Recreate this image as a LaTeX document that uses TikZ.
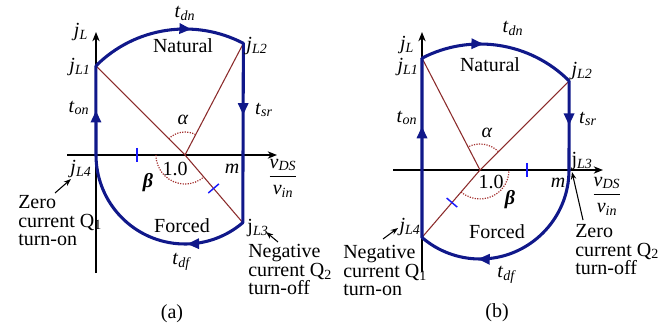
\documentclass[tikz,border=0pt]{standalone}
\usepackage{fontspec}
\setmainfont{Liberation Serif}
\usepackage{tikz}
\usetikzlibrary{arrows.meta,decorations.markings,calc}
\definecolor{pathblue}{HTML}{10188A}
\definecolor{radial}{HTML}{8B2B2B}
\definecolor{anglered}{HTML}{A3302E}
\definecolor{tickblue}{HTML}{1A1AFF}
\newcommand{\sym}[2]{\textit{#1}\textsubscript{\textit{#2}}}
\newcommand{\vratio}{$\displaystyle\frac{\mbox{\sym{v}{DS}}}{\mbox{\sym{v}{in}}}$}

\begin{document}
\begin{tikzpicture}[
x=0.75pt, y=0.75pt,
font=\fontsize{15}{14}\selectfont,
axisline/.style={draw=black, line width=0.9pt, -{Stealth[length=7pt,width=5.5pt]}},
traj/.style={draw=pathblue, line width=2.3pt, line cap=round},
flow/.style={postaction={decorate, decoration={markings, mark=at position #1 with {\arrow[pathblue]{Triangle[length=9pt,width=7.5pt]}}}}},
ray/.style={draw=radial, line width=0.8pt},
anglearc/.style={draw=anglered, line width=0.9pt, densely dotted},
bluetick/.style={draw=tickblue, line width=1.1pt},
note/.style={align=left, anchor=north west, inner sep=0pt},
pointer/.style={-{Stealth[length=5.5pt,width=4pt]}, line width=0.8pt}
]
\useasboundingbox (0,0) rectangle (663,-331);

\coordinate (Oa) at (185,-155);
\coordinate (a1) at ($(Oa)+(135:126)$);
\coordinate (a2) at ($(Oa)+(62.4:126)$);
\coordinate (a3) at ($(Oa)+(-49.5:89)$);
\coordinate (a4) at ($(Oa)+(180:89)$);
\coordinate (aXs) at (67,-155);
\coordinate (aXe) at (277,-155);
\coordinate (aYs) at (96,-273);
\coordinate (aYe) at (96,-32);
\draw[axisline] (aXs) -- (aXe);
\draw[axisline] (aYs) -- (aYe);
\draw[ray] (a1) -- (Oa) -- (a3);
\draw[ray] (Oa) -- (a2);
\draw[anglearc] ($(Oa)+(135:23)$) arc[start angle=135, end angle=62.4, radius=23];
\draw[anglearc] ($(Oa)+(180:29)$) arc[start angle=180, end angle=310.5, radius=29];
\draw[bluetick] ($(Oa)+(180:48)+(0,7)$) -- ++(0,-14);
\draw[bluetick] ($(Oa)+(-49.5:44)+(40.5:7)$) -- ++(220.5:14);
\draw[traj, flow=0.5] (a4) -- (a1);
\draw[traj, flow=0.66] (a1) arc[start angle=135, end angle=62.4, radius=126];
\draw[traj, flow=0.4] (a2) -- (a3);
\draw[traj, flow=0.3] (a3) arc[start angle=-49.5, end angle=-180, radius=89];
\node (aJL) at (81,-32) {\sym{j}{L}};
\node (aTdn) at (185,-13) {\sym{t}{dn}};
\node (aNat) at (183,-46) {Natural};
\node (aJ2) at (257,-46) {\sym{j}{L2}};
\node (aJ1) at (80,-67) {\sym{j}{L1}};
\node (aTon) at (79,-108) {\sym{t}{on}};
\node (aTsr) at (264,-110) {\sym{t}{sr}};
\node (aAl) at (183,-120) {\textit{α}};
\node (aOne) at (175,-169) {1.0};
\node (aBe) at (148,-183) {\textbf{\textit{β}}};
\node (aM) at (232,-169) {\textit{m}};
\node (aFrac) at (283,-178) {\vratio};
\node (aJ4) at (81,-169) {\sym{j}{L4}};
\node (aJ3) at (258,-228) {\textup{j}\textsubscript{\textit{L3}}};
\node (aFor) at (182,-226) {Forced};
\node (aTdf) at (182,-262) {\sym{t}{df}};
\node[note] (aZero) at (18,-195) {Zero\\current Q\textsubscript{1}\\turn-on};
\node[note] (aNeg) at (248,-244) {Negative\\current Q\textsubscript{2}\\turn-off};
\coordinate (aZeroTail) at (55,-193);
\coordinate (aZeroTip) at (71,-179);
\coordinate (aNegTail) at (278,-242);
\coordinate (aNegTip) at (266,-232);
\draw[pointer] (aZeroTail) -- (aZeroTip);
\draw[pointer] (aNegTail) -- (aNegTip);
\node (capA) at (172,-314) {(a)};

\coordinate (Ob) at (480,-170);
\coordinate (b1) at ($(Ob)+(117.4:126)$);
\coordinate (b2) at ($(Ob)+(45:126)$);
\coordinate (b3) at ($(Ob)+(0:89)$);
\coordinate (b4) at ($(Ob)+(-130.7:89)$);
\coordinate (bXs) at (393,-170);
\coordinate (bXe) at (603,-170);
\coordinate (bYs) at (422,-272);
\coordinate (bYe) at (422,-32);
\draw[axisline] (bXs) -- (bXe);
\draw[axisline] (bYs) -- (bYe);
\draw[ray] (b1) -- (Ob);
\draw[ray] (b4) -- (Ob) -- (b2);
\draw[anglearc] ($(Ob)+(45:26)$) arc[start angle=45, end angle=117.4, radius=26];
\draw[anglearc] ($(Ob)+(-130.7:29)$) arc[start angle=-130.7, end angle=0, radius=29];
\draw[bluetick] ($(Ob)+(0:47)+(0,7)$) -- ++(0,-14);
\draw[bluetick] ($(Ob)+(-130.7:43)+(139.3:7)$) -- ++(-40.7:14);
\draw[traj, flow=0.62] (b4) -- (b1);
\draw[traj, flow=0.4] (b1) arc[start angle=117.4, end angle=45, radius=126];
\draw[traj, flow=0.5] (b2) -- (b3);
\draw[traj, flow=0.7] (b3) arc[start angle=0, end angle=-130.7, radius=89];
\node (bJL) at (407,-45) {\sym{j}{L}};
\node (bTdn) at (513,-28) {\sym{t}{dn}};
\node (bNat) at (490,-65) {Natural};
\node (bJ1) at (408,-67) {\sym{j}{L1}};
\node (bJ2) at (582,-71) {\sym{j}{L2}};
\node (bTon) at (407,-118) {\sym{t}{on}};
\node (bTsr) at (588,-119) {\sym{t}{sr}};
\node (bAl) at (487,-133) {\textit{α}};
\node (bJ3) at (582,-161) {\textup{j}\textsubscript{\textit{L3}}};
\node (bOne) at (491,-182) {1.0};
\node (bM) at (558,-183) {\textit{m}};
\node (bBe) at (510,-200) {\textbf{\textit{β}}};
\node (bFrac) at (607,-196) {\vratio};
\node (bJ4) at (410,-227) {\sym{j}{L4}};
\node (bFor) at (497,-232) {Forced};
\node (bTdf) at (507,-275) {\sym{t}{df}};
\node[note] (bZero) at (575,-224) {Zero\\current Q\textsubscript{2}\\turn-off};
\node[note] (bNeg) at (343,-245) {Negative\\current Q\textsubscript{1}\\turn-on};
\coordinate (bZeroTail) at (583,-220);
\coordinate (bZeroTip) at (572,-172);
\coordinate (bNegTail) at (383,-239);
\coordinate (bNegTip) at (398,-228);
\draw[pointer] (bZeroTail) -- (bZeroTip);
\draw[pointer] (bNegTail) -- (bNegTip);
\node (capB) at (497,-313) {(b)};
\end{tikzpicture}
\end{document}
